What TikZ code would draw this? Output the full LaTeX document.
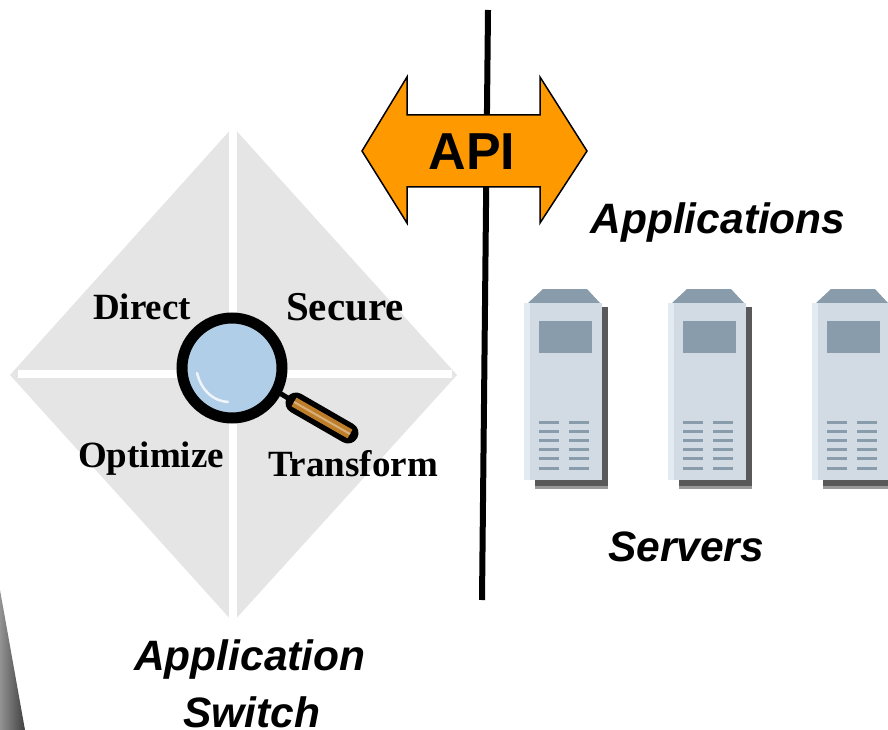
\documentclass[tikz,border=0pt]{standalone}
\usepackage{fontspec}
\setmainfont{Liberation Serif}
\setsansfont{Liberation Sans}
\definecolor{apiorange}{RGB}{255,153,0}
\definecolor{panelgray}{RGB}{229,229,229}
\definecolor{lensblue}{RGB}{176,206,232}
\definecolor{handlebrown}{RGB}{190,125,40}
\definecolor{casegray}{RGB}{210,218,227}
\definecolor{caselight}{RGB}{228,235,240}
\definecolor{slategray}{RGB}{137,156,172}
\tikzset{
	quadlabel/.style={font=\fontsize{37}{37}\selectfont\bfseries, inner sep=0pt},
	titlelabel/.style={font=\fontsize{42.5}{42.5}\selectfont\sffamily\bfseries\itshape, inner sep=0pt},
	apilabel/.style={font=\fontsize{52}{52}\selectfont\sffamily\bfseries, inner sep=0pt},
	vent/.style={slategray, line width=3pt}
}
\begin{document}
\begin{tikzpicture}[x=1pt, y=-1pt]
		\useasboundingbox (0,0) rectangle (888,730);
		\clip (0,0) rectangle (888,730);
		
		\shade [left color=gray!85, right color=black!75] (0,590) -- (25,730) -- (0,730) -- cycle;
		
		\fill [panelgray] (233,127) -- (457,375) -- (233,622) -- (10,375) -- cycle;
		\draw [white, line width=8pt] (233,127) -- (233,622);
		\draw [white, line width=8pt] (18,374) -- (452,374);
		
		\draw [line width=6pt] (488,10) -- (482,600);
		
		\draw [fill=apiorange, draw = black, line width=1.5pt, line join=miter]
			(362,151) -- (407,77) -- (407,115) -- (540,115) -- (540,77) -- (587,151)
			-- (540,223) -- (540,187) -- (407,187) -- (407,223) -- cycle;
		\node [apilabel] (api) at (472,152) {API};
		
		\foreach \sx in {0,144,288} {
			\begin{scope} [xshift=\sx pt]
			\fill [black!65] (535,307) rectangle (608,486);
			\fill [black!40] (535,486) rectangle (608,489);
			\fill [slategray] (528,303) -- (543,289) -- (587,289) -- (600,303) -- cycle;
			\fill [casegray] (524,303) rectangle (602,480);
			\fill [caselight] (524,303) rectangle (530,480);
			\fill [slategray] (539,321) rectangle (592,353);
			\foreach \vy in {422,431,440,449,458,468} {
				\draw [vent] (539,\vy) -- (559,\vy);
				\draw [vent] (569,\vy) -- (589,\vy);
			}
			\end{scope}
		}
		
		\draw [line width=5pt] (278,392) -- (296,403);
		\draw [line width=21pt, line cap=round] (296,403) -- (348,433);
		\draw [handlebrown, line width=10pt] (294,402) -- (350,434);
		\draw [handlebrown!60!white, line width=2pt] (294,402) -- (350,434);
		\draw [fill=lensblue, draw = black, line width=11pt] (232,368) circle (50);
		\draw [white, opacity=.8, line width=2.5pt, line cap=round] (197,373) .. controls (202,392) and (214,401) .. (228,402);
		
		\node [quadlabel] (direct) at (142,307) {Direct};
		\node [quadlabel, font=\fontsize{41}{41}\selectfont\bfseries] (secure) at (345,307) {Secure};
		\node [quadlabel] (optimize) at (151,459) {Optimize};
		\node [quadlabel] (transform) at (353,464) {Transform};
		
		\node [titlelabel] (applications) at (718,223) {Applications};
		\node [titlelabel] (servers) at (686,547) {Servers};
		\node [titlelabel] (application) at (250,660) {Application};
		\node [titlelabel] (switch) at (252,712) {Switch};
		
		\end{tikzpicture}
\end{document}
